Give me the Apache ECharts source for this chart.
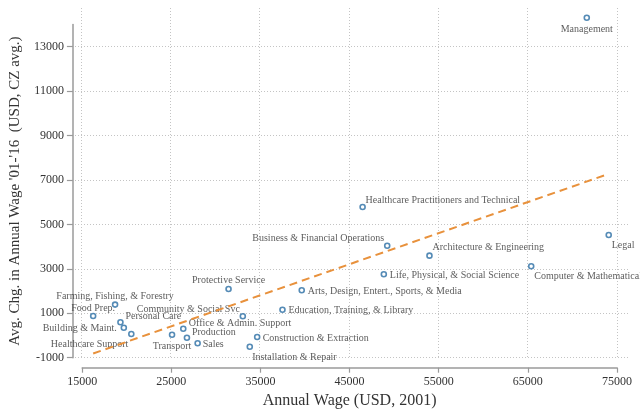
<!DOCTYPE html>
<html>
<head>
<meta charset="utf-8">
<script src="https://cdn.jsdelivr.net/npm/echarts@6/dist/echarts.min.js"></script>
<style>
html,body{margin:0;padding:0;background:#fff;}
#chart{width:640px;height:415px;}
</style>
</head>
<body>
<div id="chart"></div>
<script>
// ---- data ----
const occupations = [
  "Management", "Business & Financial Operations", "Computer & Mathematical",
  "Architecture & Engineering", "Life, Physical, & Social Science", "Community & Social Svc",
  "Legal", "Education, Training, & Library", "Arts, Design, Entert., Sports, & Media",
  "Healthcare Practitioners and Technical", "Healthcare Support", "Protective Service",
  "Food Prep.", "Building & Maint.", "Personal Care", "Sales",
  "Office & Admin. Support", "Farming, Fishing, & Forestry", "Construction & Extraction",
  "Installation & Repair", "Production", "Transport"
];
const wage2001 = [
  71610, 49220, 65375,
  53960, 48840, 33020,
  74070, 37470, 39630,
  46460, 20510, 31420,
  16230, 19670, 19290, 27950,
  26340, 18690, 34630,
  33800, 26750, 25080
];
const wageChange = [
  14306, 4043, 3115,
  3593, 2755, 868,
  4524, 1161, 2035,
  5782, 67, 2093,
  877, 351, 594, -352,
  306, 1390, -68,
  -505, -100, 36
];
const xTicks = [15000, 25000, 35000, 45000, 55000, 65000, 75000];
const yTicks = [-1000, 1000, 3000, 5000, 7000, 9000, 11000, 13000];

// ---- label placement (style only): [dx, dy, align] from point centre ----
const labelPlace = [
  [0, 12, 'center'], [-3, -7, 'right'], [3, 10, 'left'],
  [3, -8, 'left'], [6, 1, 'left'], [-3, -7, 'right'],
  [3, 10, 'left'], [6, 1, 'left'], [6, 1, 'left'],
  [3, -7, 'left'], [-3, 10.5, 'right'], [0, -8.5, 'center'],
  [0, -8, 'center'], [-7, 1, 'right'], [5, -5.5, 'left'], [5, 1.4, 'left'],
  [5.5, -5.5, 'left'], [0, -8, 'center'], [5.5, 1, 'left'],
  [2.5, 10.5, 'left'], [5, -5.5, 'left'], [0, 11.5, 'center']
];

// ---- linear fit ----
const n = wage2001.length;
const mx = wage2001.reduce((a, b) => a + b, 0) / n;
const my = wageChange.reduce((a, b) => a + b, 0) / n;
let sxy = 0, sxx = 0;
for (let i = 0; i < n; i++) {
  sxy += (wage2001[i] - mx) * (wageChange[i] - my);
  sxx += (wage2001[i] - mx) * (wage2001[i] - mx);
}
const slope = sxy / sxx, icpt = my - slope * mx;
const xmin = Math.min(...wage2001), xmax = Math.max(...wage2001);
const fitLine = [[xmin, icpt + slope * xmin], [xmax, icpt + slope * xmax]];

const FONT = "'Liberation Serif', 'Times New Roman', serif";
const GRIDC = '#c4c4c4';
const AXC = '#9a9a9a';
const plain = v => String(v);

const chart = echarts.init(document.getElementById('chart'), null, {renderer: 'canvas'});
const hidden = {show: false};
const gridSplit = {show: true, lineStyle: {color: GRIDC, width: 1, type: [1, 2]}};

chart.setOption({
  backgroundColor: '#fff',
  animation: false,
  grid: [
    {left: 81, right: 23, top: 8, bottom: 57.3},      // vertical grid lines
    {left: 72, right: 12, top: 46.7, bottom: 57.3},   // horizontal grid lines
    {left: 81, right: 23, top: 24.5, bottom: 57.3}    // data + axes
  ],
  xAxis: [
    {gridIndex: 0, type: 'value', min: 15000, max: 75000, interval: 10000,
     axisLine: hidden, axisTick: hidden, axisLabel: hidden, splitLine: gridSplit},
    {gridIndex: 1, type: 'value', min: 0, max: 1, show: false},
    {gridIndex: 2, type: 'value', min: 15000, max: 75000, interval: 10000, offset: 10,
     axisLine: {show: true, onZero: false, lineStyle: {color: AXC, width: 1.5}},
     axisTick: {show: true, length: 5, customValues: xTicks, lineStyle: {color: AXC, width: 1.2}},
     axisLabel: {show: true, margin: 8, customValues: xTicks, formatter: plain,
                 color: '#333', fontFamily: FONT, fontSize: 12},
     splitLine: hidden,
     name: 'Annual Wage (USD, 2001)', nameLocation: 'middle', nameGap: 19,
     nameTextStyle: {color: '#333', fontFamily: FONT, fontSize: 16}}
  ],
  yAxis: [
    {gridIndex: 0, type: 'value', min: 0, max: 1, show: false},
    {gridIndex: 1, type: 'value', min: -1000, max: 13000, interval: 2000,
     axisLine: hidden, axisTick: hidden, axisLabel: hidden, splitLine: gridSplit},
    {gridIndex: 2, type: 'value', min: -1000, max: 14000, interval: 2000, offset: 9.3,
     axisLine: {show: true, onZero: false, lineStyle: {color: AXC, width: 1.5}},
     axisTick: {show: true, length: 6, customValues: yTicks, lineStyle: {color: AXC, width: 1.2}},
     axisLabel: {show: true, margin: 9, customValues: yTicks, formatter: plain,
                 color: '#333', fontFamily: FONT, fontSize: 12},
     splitLine: hidden,
     name: "Avg. Chg. in Annual Wage '01-'16  (USD, CZ avg.)", nameLocation: 'middle', nameGap: 47,
     nameTextStyle: {color: '#333', fontFamily: FONT, fontSize: 15}}
  ],
  series: [
    {
      type: 'scatter', xAxisIndex: 2, yAxisIndex: 2, clip: false,
      symbol: 'circle', symbolSize: 5,
      itemStyle: {color: '#ffffff', borderColor: '#2a6ea4', borderWidth: 1.6},
      data: occupations.map((name, i) => ({
        name: name,
        value: [wage2001[i], wageChange[i]],
        label: {
          show: true, formatter: name, position: 'inside',
          offset: [labelPlace[i][0], labelPlace[i][1]],
          align: labelPlace[i][2], verticalAlign: 'middle',
          color: '#333', fontFamily: FONT, fontSize: 10,
          textBorderWidth: 0
        }
      })),
      z: 3
    },
    {
      type: 'line', xAxisIndex: 2, yAxisIndex: 2, data: fitLine,
      symbol: 'none', silent: true,
      lineStyle: {color: '#e8913c', width: 2, type: [8, 5]},
      z: 4
    }
  ]
});
</script>
</body>
</html>
